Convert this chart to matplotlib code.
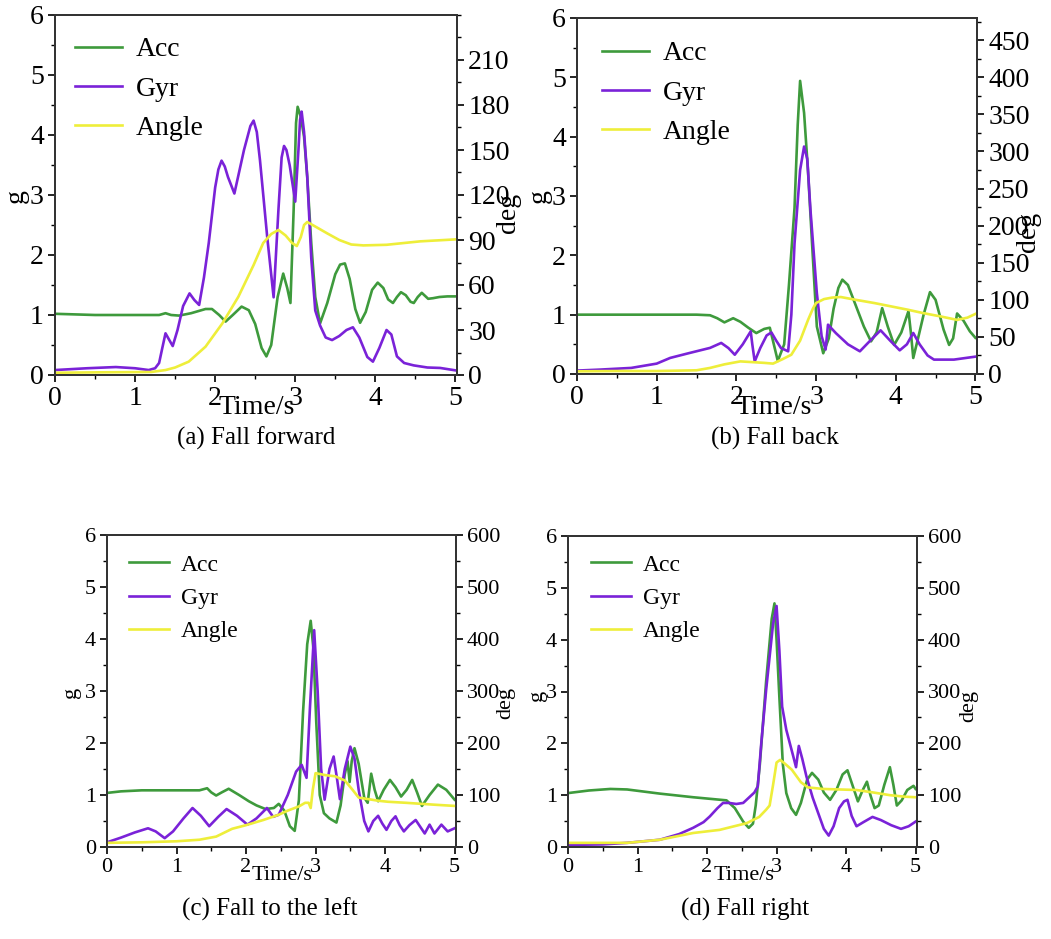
import matplotlib.pyplot as plt
from matplotlib.ticker import MultipleLocator, FixedLocator

plt.rcParams['font.family'] = ['Liberation Serif', 'DejaVu Serif']

# ---- (a) fall forward ----
fwd_acc_t = [0, 0.5, 1.0, 1.3, 1.38, 1.45, 1.55, 1.7, 1.88, 1.96, 2.05, 2.13, 2.22, 2.33,
             2.42, 2.5, 2.58, 2.64, 2.7, 2.78, 2.85, 2.9, 2.94, 2.98, 3.01, 3.03, 3.07, 3.11,
             3.15, 3.2, 3.25, 3.31, 3.4, 3.5, 3.56, 3.62, 3.68, 3.75, 3.81, 3.88, 3.96, 4.03,
             4.1, 4.16, 4.22, 4.27, 4.32, 4.38, 4.44, 4.48, 4.53, 4.58, 4.62, 4.66, 4.72, 4.8,
             4.9, 5.0]
fwd_acc = [1.02, 1.0, 1.0, 1.0, 1.03, 1.0, 0.99, 1.03, 1.10, 1.10, 1.0, 0.89, 1.0, 1.14,
           1.08, 0.85, 0.45, 0.31, 0.5, 1.3, 1.69, 1.45, 1.2, 2.75, 4.2, 4.47, 4.3, 3.97,
           3.3, 2.2, 1.3, 0.86, 1.2, 1.68, 1.84, 1.86, 1.6, 1.1, 0.87, 1.05, 1.42, 1.54,
           1.45, 1.26, 1.2, 1.3, 1.38, 1.33, 1.22, 1.2, 1.3, 1.37, 1.32, 1.27, 1.28, 1.3,
           1.31, 1.31]
fwd_gyr_t = [0, 0.4, 0.76, 1.0, 1.17, 1.25, 1.3, 1.34, 1.38, 1.42, 1.47, 1.53, 1.6, 1.68,
             1.74, 1.8, 1.86, 1.92, 2.0, 2.04, 2.08, 2.12, 2.16, 2.24, 2.36, 2.44, 2.48, 2.52,
             2.56, 2.65, 2.73, 2.79, 2.83, 2.86, 2.89, 2.93, 3.0, 3.04, 3.06, 3.08, 3.11,
             3.15, 3.2, 3.25, 3.31, 3.38, 3.46, 3.55, 3.64, 3.72, 3.8, 3.9, 3.97, 4.05, 4.14,
             4.2, 4.27, 4.36, 4.48, 4.65, 4.81, 5.0]
fwd_gyr = [3.3, 4.5, 5.3, 4.5, 3.3, 4.5, 8, 18, 27.8, 24, 19.3, 30, 46, 54.4,
           50, 46.7, 65, 88, 125, 137, 142.9, 139, 132, 121, 150, 166, 169.6, 162,
           143, 92, 51.8, 110, 145, 152.7, 150, 140, 115.6, 150, 170, 175.6, 162,
           132, 78, 43, 33, 25, 23.3, 26, 30, 31.8, 25, 12, 8.9, 18, 30,
           27, 12.4, 8, 6.4, 5, 4.7, 3.1]
fwd_ang_t = [0, 0.6, 1.2, 1.38, 1.5, 1.67, 1.88, 2.09, 2.29, 2.48, 2.6, 2.7, 2.79, 2.88,
             2.96, 3.02, 3.07, 3.11, 3.15, 3.25, 3.4, 3.55, 3.7, 3.85, 4.14, 4.56, 5.0]
fwd_ang = [1.5, 1.8, 2, 3.3, 5, 8.9, 18.9, 34.4, 52.2, 73.3, 88, 94, 96.7, 93,
           88, 86, 92, 100, 102, 99, 94.4, 90, 87, 86.4, 86.8, 89.1, 90.4]

# ---- (b) fall back ----
back_acc_t = [0, 0.5, 1.0, 1.5, 1.67, 1.76, 1.85, 1.96, 2.05, 2.15, 2.25, 2.35, 2.42, 2.47,
              2.52, 2.6, 2.66, 2.73, 2.77, 2.80, 2.85, 2.9, 2.95, 3.01, 3.09, 3.16, 3.22,
              3.28, 3.33, 3.4, 3.5, 3.6, 3.69, 3.76, 3.83, 3.9, 3.98, 4.07, 4.16, 4.19, 4.22,
              4.28, 4.35, 4.43, 4.5, 4.6, 4.67, 4.72, 4.77, 4.85, 4.93, 5.0]
back_acc = [1.0, 1.0, 1.0, 1.0, 0.99, 0.94, 0.87, 0.94, 0.88, 0.78, 0.69, 0.76, 0.78, 0.5,
            0.22, 0.5, 1.5, 2.8, 4.2, 4.94, 4.4, 3.4, 2.2, 0.8, 0.35, 0.6, 1.1,
            1.45, 1.59, 1.5, 1.15, 0.8, 0.55, 0.7, 1.11, 0.8, 0.49, 0.7, 1.06, 0.7, 0.27,
            0.6, 1.0, 1.38, 1.25, 0.75, 0.49, 0.6, 1.02, 0.9, 0.72, 0.61]
back_gyr_t = [0, 0.3, 0.68, 1.0, 1.17, 1.4, 1.67, 1.81, 1.9, 1.98, 2.08, 2.18, 2.2, 2.23,
              2.3, 2.38, 2.44, 2.5, 2.56, 2.65, 2.69, 2.73, 2.8, 2.85, 2.89, 2.93, 3.01,
              3.07, 3.12, 3.15, 3.25, 3.4, 3.55, 3.68, 3.81, 3.93, 4.05, 4.14, 4.22, 4.3,
              4.4, 4.48, 4.6, 4.73, 5.0]
back_gyr = [4.6, 6, 8.2, 14, 21.7, 28, 35.2, 41.9, 35, 26, 40, 57.5, 40, 17,
            35, 52, 56, 45, 35, 30.6, 80, 176, 275, 306.7, 290, 221, 109,
            51, 33, 66.5, 55, 40, 30.6, 45, 58.9, 45, 31.9, 40, 55.3, 40,
            25, 19.4, 19.4, 19.4, 23.4]
back_ang_t = [0, 0.5, 1.0, 1.5, 1.67, 1.85, 2.05, 2.2, 2.35, 2.46, 2.58, 2.69, 2.8, 2.9,
              2.96, 3.0, 3.1, 3.2, 3.31, 3.5, 3.73, 3.95, 4.15, 4.35, 4.56, 4.77, 4.9, 5.0]
back_ang = [3.6, 4, 4, 5, 8.2, 13, 17, 16, 15, 14, 20, 26, 45, 73,
            88, 95.7, 101, 103, 103.8, 100, 95.7, 91, 86.7, 82, 77.7, 73, 76, 81]

# ---- (c) fall to the left ----
left_acc_t = [0, 0.2, 0.5, 1.0, 1.33, 1.44, 1.5, 1.57, 1.65, 1.75, 1.9, 2.04, 2.15, 2.28,
              2.4, 2.47, 2.55, 2.63, 2.70, 2.76, 2.82, 2.88, 2.93, 2.97, 3.01, 3.06, 3.12,
              3.2, 3.3, 3.36, 3.42, 3.46, 3.49, 3.52, 3.56, 3.62, 3.7, 3.75, 3.8, 3.85, 3.9,
              3.98, 4.07, 4.15, 4.23, 4.31, 4.39, 4.46, 4.53, 4.64, 4.76, 4.88, 5.0]
left_acc = [1.04, 1.07, 1.09, 1.09, 1.09, 1.13, 1.05, 0.99, 1.05, 1.12, 1.0, 0.88, 0.8, 0.73,
            0.75, 0.83, 0.7, 0.4, 0.31, 0.9, 2.6, 3.9, 4.35, 3.8, 2.4, 1.0, 0.65,
            0.55, 0.47, 0.8, 1.4, 1.65, 1.25, 1.65, 1.9, 1.6, 0.95, 0.85, 1.41, 1.1, 0.88,
            1.1, 1.29, 1.15, 0.97, 1.1, 1.29, 1.05, 0.79, 1.0, 1.2, 1.1, 0.91]
left_gyr_t = [0, 0.2, 0.4, 0.59, 0.7, 0.83, 0.95, 1.1, 1.23, 1.35, 1.47, 1.6, 1.72, 1.87,
              2.02, 2.15, 2.3, 2.39, 2.47, 2.6, 2.72, 2.80, 2.87, 2.92, 2.98, 3.03, 3.08,
              3.13, 3.2, 3.26, 3.31, 3.35, 3.42, 3.5, 3.56, 3.62, 3.7, 3.76, 3.83, 3.9,
              3.96, 4.02, 4.09, 4.15, 4.21, 4.27, 4.35, 4.44, 4.51, 4.57, 4.64, 4.71, 4.81,
              4.9, 5.0]
left_gyr = [9, 18, 28, 36, 30, 17, 30, 55, 75, 60, 40, 58, 73, 60,
            43, 55, 75, 58, 62, 100, 145, 158, 133, 270, 417, 300, 150,
            91, 150, 174, 130, 92, 150, 193, 170, 110, 50, 30, 50, 60,
            45, 33, 50, 59, 42, 30, 42, 52, 38, 26, 43, 26, 43,
            30, 36]
left_ang_t = [0, 0.5, 1.0, 1.33, 1.57, 1.8, 2.0, 2.25, 2.47, 2.6, 2.76, 2.85, 2.9, 2.93,
              2.96, 3.0, 3.15, 3.28, 3.42, 3.52, 3.62, 3.76, 3.9, 4.04, 4.3, 4.52, 4.75, 5.0]
left_ang = [8, 9, 11, 14, 20, 35, 42, 52, 62, 70, 78, 85, 85, 75,
            110, 142, 138, 136, 128, 112, 95, 92, 89, 87, 85, 83, 81, 79]

# ---- (d) fall right ----
right_acc_t = [0, 0.3, 0.61, 0.85, 1.32, 1.8, 2.28, 2.4, 2.52, 2.6, 2.66, 2.7, 2.76, 2.85,
               2.93, 2.97, 3.0, 3.04, 3.09, 3.14, 3.21, 3.28, 3.35, 3.44, 3.51, 3.6, 3.68,
               3.77, 3.86, 3.95, 4.02, 4.09, 4.17, 4.24, 4.3, 4.35, 4.41, 4.47, 4.55, 4.63,
               4.68, 4.73, 4.8, 4.88, 4.97, 5.0]
right_acc = [1.04, 1.09, 1.12, 1.11, 1.03, 0.96, 0.90, 0.75, 0.49, 0.37, 0.45, 0.8, 1.6, 3.2,
             4.4, 4.7, 4.0, 2.9, 1.6, 1.04, 0.75, 0.62, 0.85, 1.3, 1.43, 1.3, 1.05,
             0.91, 1.1, 1.4, 1.48, 1.2, 0.88, 1.1, 1.26, 1.0, 0.75, 0.8, 1.2, 1.54,
             1.2, 0.8, 0.9, 1.1, 1.18, 1.12]
right_gyr_t = [0, 0.5, 0.85, 1.32, 1.6, 1.8, 1.95, 2.04, 2.15, 2.23, 2.32, 2.42, 2.52, 2.6,
               2.68, 2.73, 2.78, 2.85, 2.95, 3.0, 3.04, 3.08, 3.14, 3.24, 3.28, 3.32, 3.37,
               3.43, 3.52, 3.6, 3.68, 3.75, 3.82, 3.9, 3.97, 4.02, 4.08, 4.15, 4.25, 4.38,
               4.5, 4.65, 4.79, 4.9, 5.0]
right_gyr = [4, 5, 8, 14, 25, 37, 48, 59, 75, 85, 85, 83, 85, 95,
             105, 117, 200, 303, 431, 465, 380, 271, 226, 175, 154, 195, 170,
             136, 95, 65, 35, 22, 40, 75, 88, 91, 60, 40, 48, 58,
             52, 42, 35, 40, 49]
right_ang_t = [0, 0.5, 0.85, 1.32, 1.8, 2.18, 2.57, 2.75, 2.85, 2.9, 2.95, 3.0, 3.05, 3.1,
               3.22, 3.35, 3.45, 3.67, 3.9, 4.15, 4.4, 4.63, 4.85, 5.0]
right_ang = [8, 8, 8, 14, 27, 33, 46, 58, 72, 80, 120, 163, 168, 163,
             149, 125, 115, 112, 111, 110, 105, 100, 97, 96]

ACC_COLOR = '#3e9a3c'
GYR_COLOR = '#7a22d8'
ANG_COLOR = '#eeee3a'

W, H = 1051, 939
fig = plt.figure(figsize=(W / 100, H / 100), dpi=100)


def panel(box, acc_t, acc, gyr_t, gyr, ang_t, ang, deg_max, deg_top, deg_step,
          fs, lfs, leg_xy, g_xy, deg_xy, time_xy, caption, cap_xy):
    l, t, r, b = box
    ax = fig.add_axes([l / W, 1 - b / H, (r - l) / W, (b - t) / H])
    ax2 = ax.twinx()

    def frac(p):
        return ((p[0] - l) / (r - l), (b - p[1]) / (b - t))

    h1, = ax.plot(acc_t, acc, color=ACC_COLOR, lw=1.9, label='Acc')
    h2, = ax2.plot(gyr_t, gyr, color=GYR_COLOR, lw=1.9, label='Gyr')
    h3, = ax2.plot(ang_t, ang, color=ANG_COLOR, lw=1.9, label='Angle')

    ax.set_xlim(0, 5.02)
    ax.set_ylim(0, 6)
    ax2.set_ylim(0, deg_max)
    ax.xaxis.set_major_locator(MultipleLocator(1))
    ax.xaxis.set_minor_locator(MultipleLocator(0.5))
    ax.yaxis.set_major_locator(MultipleLocator(1))
    ax.yaxis.set_minor_locator(MultipleLocator(0.5))
    ax2.yaxis.set_major_locator(FixedLocator(range(0, deg_top + 1, deg_step)))
    ax2.yaxis.set_minor_locator(MultipleLocator(deg_step / 2))

    for a in (ax, ax2):
        a.tick_params(which='major', direction='out', length=5, width=1.2,
                      labelsize=fs, pad=3)
        a.tick_params(which='minor', direction='out', length=3, width=1.0)
        for s in a.spines.values():
            s.set_linewidth(1.3)
            s.set_color('#333333')

    ax.set_ylabel('g', fontsize=fs)
    ax.yaxis.set_label_coords(*frac(g_xy))
    ax.yaxis.label.set_va('center')
    ax2.set_ylabel('deg', fontsize=fs)
    ax2.yaxis.set_label_coords(*frac(deg_xy))
    ax2.yaxis.label.set_va('center')
    ax.set_xlabel('Time/s', fontsize=fs)
    ax.xaxis.set_label_coords(*frac(time_xy))
    ax.xaxis.label.set_va('center')

    ax2.legend([h1, h2, h3], ['Acc', 'Gyr', 'Angle'], loc='upper left',
               bbox_to_anchor=frac(leg_xy), frameon=False, fontsize=lfs,
               borderpad=0, borderaxespad=0, handlelength=1.7,
               handletextpad=0.5, labelspacing=0.5)

    fig.text(cap_xy[0] / W, 1 - cap_xy[1] / H, caption, ha='center', va='center',
             fontsize=18)


panel((55, 15, 457, 375), fwd_acc_t, fwd_acc, fwd_gyr_t, fwd_gyr, fwd_ang_t, fwd_ang,
      240, 210, 30, 20, 20, (75, 37), (16, 196), (508, 213), (257, 408),
      '(a) Fall forward', (256, 438))
panel((577, 18, 977, 374), back_acc_t, back_acc, back_gyr_t, back_gyr, back_ang_t, back_ang,
      480, 450, 50, 20, 20, (602, 41), (539, 196), (1029, 232), (774, 408),
      '(b) Fall back', (775, 438))
panel((107, 535, 456, 847), left_acc_t, left_acc, left_gyr_t, left_gyr, left_ang_t, left_ang,
      600, 600, 100, 16, 17, (129, 554), (71, 692), (506, 703), (282, 875),
      '(c) Fall to the left', (270, 909))
panel((568, 536, 917, 847), right_acc_t, right_acc, right_gyr_t, right_gyr, right_ang_t,
      right_ang, 600, 600, 100, 16, 17, (591, 554), (538, 695), (969, 706), (744, 875),
      '(d) Fall right', (745, 909))

fig.savefig('out.png', dpi=100)
